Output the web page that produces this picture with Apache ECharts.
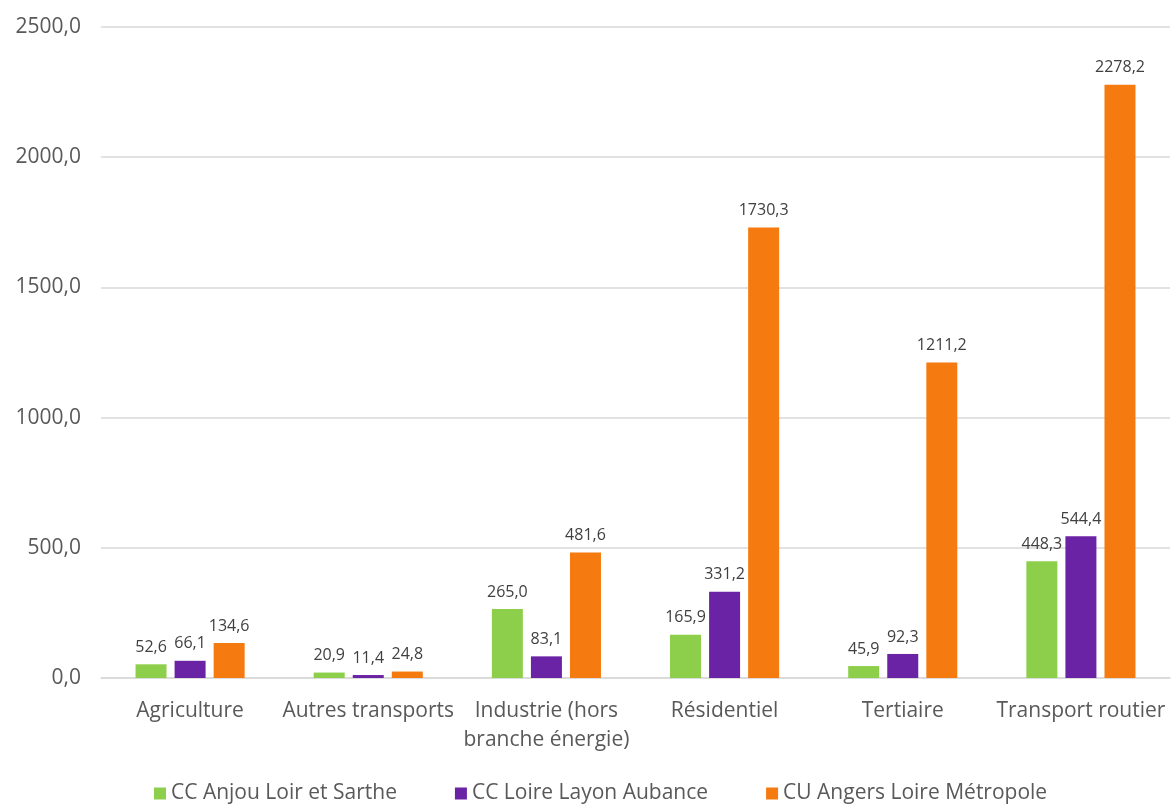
<!DOCTYPE html>
<html><head><meta charset="utf-8">
<script src="https://cdn.jsdelivr.net/npm/echarts@6/dist/echarts.min.js"></script>
<style>html,body{margin:0;padding:0;background:#fff}#c{width:1171px;height:806px}</style>
</head><body><div id="c"></div>
<script>
const categories = ['Agriculture', 'Autres transports', 'Industrie (hors\nbranche énergie)', 'Résidentiel', 'Tertiaire', 'Transport routier'];
const seriesNames = ['CC Anjou Loir et Sarthe', 'CC Loire Layon Aubance', 'CU Angers Loire Métropole'];
const anjou = [52.6, 20.9, 265.0, 165.9, 45.9, 448.3];
const layon = [66.1, 11.4, 83.1, 331.2, 92.3, 544.4];
const angers = [134.6, 24.8, 481.6, 1730.3, 1211.2, 2278.2];
const colors = ['#8DCF4B', '#6B23A6', '#F57B10'];

const fmt = v => v.toFixed(1).replace('.', ',');
const font = '"Open Sans", Lato, sans-serif';
const chart = echarts.init(document.getElementById('c'));
chart.setOption({
  animation: false,
  textStyle: { fontFamily: font },
  grid: { left: 101, right: 1, top: 27, bottom: 128, containLabel: false },
  legend: {
    top: 783, left: 154, itemWidth: 12, itemHeight: 12, itemGap: 58, padding: 0,
    icon: 'rect',
    textStyle: { fontSize: 21, color: '#595959', fontFamily: font },
    data: seriesNames
  },
  xAxis: {
    type: 'category', data: categories,
    axisLine: { lineStyle: { color: '#D9D9D9', width: 1.5 } },
    axisTick: { show: false },
    axisLabel: { fontSize: 21, color: '#595959', margin: 19, lineHeight: 29, interval: 0 }
  },
  yAxis: {
    type: 'value', min: 0, max: 2500, interval: 500,
    axisLabel: { formatter: fmt, fontSize: 21, color: '#595959', margin: 20 },
    splitLine: { lineStyle: { color: '#D9D9D9', width: 1.5 } },
    axisLine: { show: false }, axisTick: { show: false }
  },
  series: [anjou, layon, angers].map((d, i) => ({
    name: seriesNames[i], type: 'bar', data: d,
    barWidth: 31, barGap: '26%',
    itemStyle: { color: colors[i] },
    label: { show: true, position: 'top', formatter: p => fmt(p.value), fontSize: 16, color: '#404040', distance: 9 }
  }))
});
</script></body></html>
